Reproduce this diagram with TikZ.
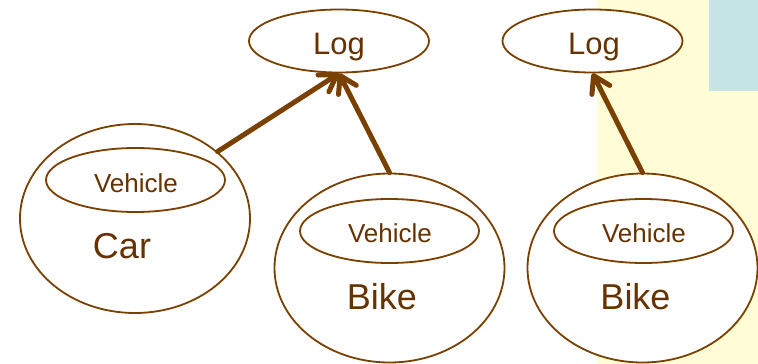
\documentclass[tikz,border=0pt]{standalone}
\usepackage{fontspec}
\setmainfont{Liberation Sans}
\usetikzlibrary{shapes.geometric,arrows.meta}
\definecolor{umber}{RGB}{122,64,0}
\definecolor{umbertext}{RGB}{102,51,0}
\definecolor{paleyellow}{RGB}{255,253,214}
\definecolor{paleblue}{RGB}{197,228,230}
\begin{document}
\begin{tikzpicture}[x=1pt,y=-1pt,
  oval/.style={ellipse, draw=umber, line width=1.8pt, fill=white, inner sep=0pt},
  logoval/.style={oval, minimum width=180pt, minimum height=63pt},
  outeroval/.style={oval, minimum width=230pt, minimum height=189pt},
  inneroval/.style={oval, minimum width=179pt, minimum height=64pt},
  txt/.style={text=umbertext, inner sep=0pt, anchor=base},
  logtxt/.style={txt, font=\fontsize{31}{36}\selectfont},
  vehtxt/.style={txt, font=\fontsize{26}{30}\selectfont},
  bigtxt/.style={txt, font=\fontsize{36}{42}\selectfont},
  link/.style={draw=umber, line width=5pt, line cap=round,
    -{Straight Barb[round, length=16pt, width=20pt]}}
]
\useasboundingbox (0,0) rectangle (758,364);
% background panels
\fill[paleyellow] (597,0) rectangle (758,364);
\fill[paleblue] (709,0) rectangle (758,91);

% Log ellipses
\node[logoval] (log1) at (339,41) {};
\node[logoval] (log2) at (592.5,41) {};
\node[logtxt] (log1txt) at (339,54) {Log};
\node[logtxt] (log2txt) at (594,54) {Log};

% Car
\node[outeroval] (car) at (135,218.5) {};
\node[inneroval] (carveh) at (135.5,180) {};
\node[vehtxt] (carvehtxt) at (136,192) {Vehicle};
\node[bigtxt] (cartxt) at (122,258) {Car};

% Bike (left)
\node[outeroval] (bike1) at (389.5,268) {};
\node[inneroval] (bike1veh) at (389.5,231) {};
\node[vehtxt] (bike1vehtxt) at (390,242) {Vehicle};
\node[bigtxt] (bike1txt) at (382,309) {Bike};

% Bike (right)
\node[outeroval] (bike2) at (642.5,268) {};
\node[inneroval] (bike2veh) at (643.5,231) {};
\node[vehtxt] (bike2vehtxt) at (644,242) {Vehicle};
\node[bigtxt] (bike2txt) at (635.5,309) {Bike};

% connectors
\draw[link] (car.39) -- (log1.south);
\draw[link] (bike1.north) -- (log1.south);
\draw[link] (bike2.north) -- (log2.south);
\end{tikzpicture}
\end{document}
